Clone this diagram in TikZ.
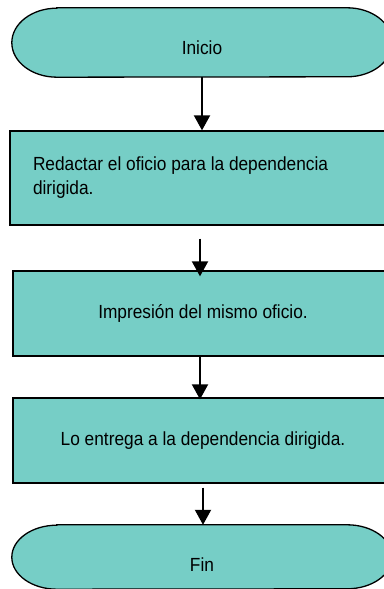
\documentclass[tikz,border=0pt]{standalone}
\usepackage{fontspec}
\setmainfont{Liberation Sans}[FakeStretch=0.91]
\usetikzlibrary{arrows.meta,backgrounds}
\definecolor{flowteal}{RGB}{118,206,198}
\begin{document}
\begin{tikzpicture}[
  x=1pt,y=1pt,
  font=\fontsize{19}{24}\selectfont,
  termnode/.style={inner sep=0pt,minimum width=380pt},
  termline/.style={draw=black,line width=1.3pt,fill=flowteal},
  procbox/.style={draw=black,line width=1.3pt,fill=flowteal,inner sep=0pt,minimum width=380pt,minimum height=85pt},
  arr/.style={line width=2pt,-{Triangle[width=16pt,length=15pt]}}
]
\useasboundingbox (0,0) rectangle (383,589);

% Terminals
\node[termnode,minimum height=69pt,text height=25pt,text depth=0pt] (inicio) at (202,546.5) {Inicio};
\node[termnode,minimum height=64pt,text height=30pt,text depth=0pt] (fin) at (202,32) {Fin};
\begin{scope}[on background layer]
\draw[termline] ([xshift=45pt]inicio.north west) -- ([xshift=-45pt]inicio.north east)
  arc[start angle=90,end angle=-90,x radius=45pt,y radius=34.5pt]
  -- ([xshift=45pt]inicio.south west)
  arc[start angle=270,end angle=90,x radius=45pt,y radius=34.5pt] -- cycle;
\draw[termline] ([xshift=45pt]fin.north west) -- ([xshift=-45pt]fin.north east)
  arc[start angle=90,end angle=-90,x radius=45pt,y radius=32pt]
  -- ([xshift=45pt]fin.south west)
  arc[start angle=270,end angle=90,x radius=45pt,y radius=32pt] -- cycle;
\end{scope}

% Process boxes
\node[procbox,minimum width=384pt,minimum height=94pt,inner xsep=23pt,text width=338pt,align=flush left] (b1) at (202,411)
  {Redactar el oficio para la dependencia\\dirigida.};
\node[procbox] (b2) at (203,275.5) {Impresión del mismo oficio.};
\node[procbox] (b3) at (203,148.5) {Lo entrega a la dependencia dirigida.};

% Connectors
\draw[arr] (inicio.south) -- (b1.north);
\draw[arr] ([xshift=-2pt,yshift=-13pt]b1.south) -- ([xshift=-3pt,yshift=-6pt]b2.north);
\draw[arr] ([xshift=-3pt]b2.south) -- ([xshift=-3pt,yshift=-2pt]b3.north);
\draw[arr] ([yshift=-4pt]b3.south) -- ([xshift=1pt]fin.north);
\end{tikzpicture}
\end{document}
